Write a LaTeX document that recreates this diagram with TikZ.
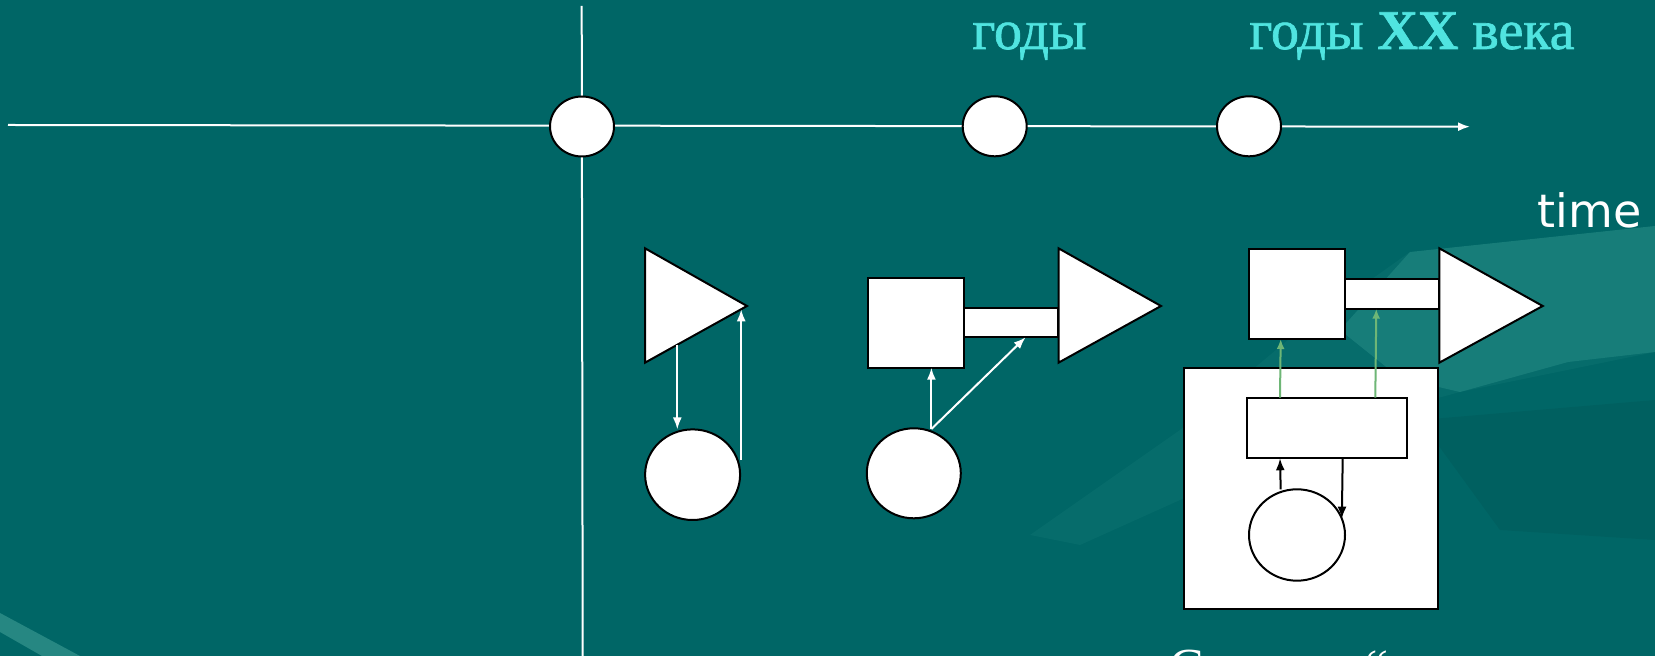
\documentclass[tikz,border=0pt]{standalone}
\usepackage{fontspec}
\setmainfont{Liberation Serif}
\newfontfamily\dejavu{DejaVu Sans}
\newfontfamily\yearfont[FakeBold=1.2]{Liberation Serif}
\usetikzlibrary{shapes.geometric,arrows.meta}
\definecolor{bg}{RGB}{0,102,102}
\definecolor{swoosh}{RGB}{70,170,160}
\definecolor{band}{RGB}{38,135,130}
\definecolor{cyantxt}{RGB}{80,228,224}
\definecolor{greenarr}{RGB}{110,182,118}
\begin{document}
\begin{tikzpicture}[x=0.5pt,y=-0.5pt,
  shp/.style={draw=black, fill=white, line width=1pt},
  box/.style={shp, rectangle, inner sep=0pt, outer sep=0pt},
  oval/.style={shp, ellipse, inner sep=0pt, outer sep=0pt},
  wconn/.style={draw=white, line width=1pt, -{Latex[length=6pt,width=4.5pt]}},
  gconn/.style={draw=greenarr, line width=1pt, -{Latex[length=5pt,width=4pt]}},
  kconn/.style={draw=black, line width=1pt, -{Latex[length=6pt,width=4.5pt]}},
  axisline/.style={draw=white, line width=1pt},
  yeartxt/.style={anchor=base west, inner sep=0pt, text=cyantxt, font=\yearfont\fontsize{28}{30}\selectfont}
]
\useasboundingbox (0,0) rectangle (1655,656);
\clip (0,0) rectangle (1655,656);
\fill[bg] (0,0) rectangle (1655,656);
% background swooshes
\fill[swoosh, opacity=0.09] (1030,535) -- (1180,430) -- (1300,330) -- (1410,252) -- (1655,226) -- (1655,352) -- (1460,392) -- (1320,430) -- (1180,500) -- (1080,545) -- cycle;
\fill[swoosh, opacity=0.28] (1410,252) -- (1655,226) -- (1655,352) -- (1568,362) -- (1460,392) -- (1400,378) -- (1340,330) -- cycle;
\fill[black, opacity=0.06] (1420,420) -- (1655,400) -- (1655,540) -- (1500,530) -- cycle;
\fill[band] (0,613) -- (80,656) -- (42,656) -- (0,632) -- cycle;
% axes
\coordinate (axL) at (8,125);
\coordinate (axR) at (1470,126.7);
\coordinate (vT) at (581.7,6);
\coordinate (vB) at (582.7,660);
\draw[axisline, -{Latex[length=6pt,width=4.5pt]}] (axL) -- (axR);
\draw[axisline] (vT) -- (vB);
\node[oval, minimum width=32pt, minimum height=30pt] (ax1) at (582,126.5) {};
\node[oval, minimum width=32pt, minimum height=30pt] (ax2) at (994.7,126.3) {};
\node[oval, minimum width=32pt, minimum height=30pt] (ax3) at (1249,126.3) {};
% texts
\node[yeartxt] (y1) at (972,49) {годы};
\node[yeartxt] (y2) at (1249,49) {годы \textbf{XX} века};
\node[anchor=base west, inner sep=0pt, text=white, font=\dejavu\fontsize{23}{26}\selectfont] (time) at (1537,228) {time};
\node[anchor=north, inner sep=0pt, text=white, font=\fontsize{26}{28}\selectfont] (c1) at (1187,650) {С};
\node[anchor=north, inner sep=0pt, text=white, font=\fontsize{26}{28}\selectfont] (q1) at (1377,650) {“};
% group 1
\draw[shp, line join=miter] (645,248.3) -- (747,306) -- (645,362.7) -- cycle;
\node[oval, minimum width=47.5pt, minimum height=45.3pt] (cA) at (692.6,474.7) {};
\coordinate (d1s) at (677.3,344.7);
\coordinate (u1s) at (741.2,460);
\coordinate (u1e) at (741.2,309.3);
\draw[wconn] (d1s) -- (d1s |- cA.north);
\draw[wconn] (u1s) -- (u1e);
% group 2
\node[box, minimum width=47.8pt, minimum height=45pt] (sq1) at (915.8,322.7) {};
\node[box, minimum width=47.45pt, minimum height=14.8pt] (bar1) at (1011,322.5) {};
\draw[shp, line join=miter] (1058.5,248.3) -- (1161,306) -- (1058.5,362.7) -- cycle;
\node[oval, minimum width=47pt, minimum height=45pt] (cB) at (913.8,473.3) {};
\coordinate (b0) at (931.4,429);
\draw[wconn] (b0) -- (b0 |- sq1.south);
\draw[wconn] (b0) -- ([xshift=7.3pt]bar1.south);
% group 3
\node[box, minimum width=47.7pt, minimum height=45.15pt] (sq2) at (1297,293.85) {};
\node[box, minimum width=47.3pt, minimum height=14.85pt] (bar2) at (1392,293.85) {};
\draw[shp, line join=miter] (1439.3,248.3) -- (1542.7,306) -- (1439.3,362.7) -- cycle;
\node[box, minimum width=127pt, minimum height=120.65pt] (big) at (1311.3,488.35) {};
\node[box, minimum width=79.7pt, minimum height=30.3pt] (inner) at (1327,428) {};
\node[oval, minimum width=48pt, minimum height=45.7pt] (cC) at (1297,535) {};
\draw[gconn] ([xshift=-23.5pt]inner.north) -- ([xshift=-8.15pt]sq2.south);
\draw[gconn] ([xshift=24.15pt]inner.north) -- ([xshift=-7.85pt]bar2.south);
\draw[kconn] ([xshift=-8.15pt]cC.north) -- ([xshift=-23.5pt]inner.south);
\draw[kconn] ([xshift=7.85pt]inner.south) -- (cC.20);
\end{tikzpicture}
\end{document}
